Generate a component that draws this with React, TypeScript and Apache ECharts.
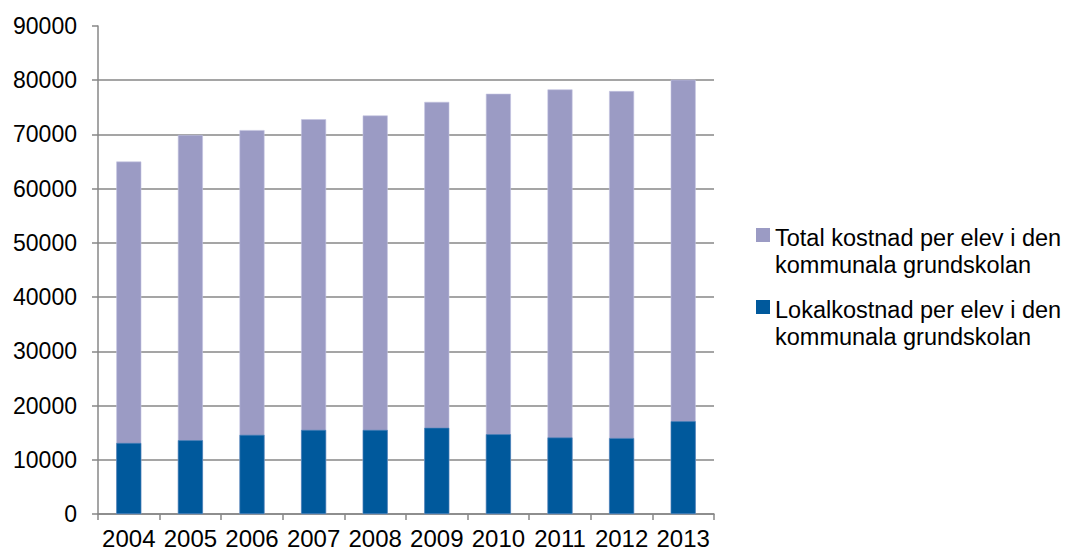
import React, { useEffect, useRef } from "react";
import * as echarts from "echarts";

const years = ["2004", "2005", "2006", "2007", "2008", "2009", "2010", "2011", "2012", "2013"];
const totalCost = [65000, 69900, 70800, 72800, 73500, 76000, 77500, 78300, 78000, 80100];
const localCost = [13100, 13600, 14600, 15500, 15500, 15900, 14700, 14100, 14000, 17100];
const seriesNames = [
  "Total kostnad per elev i den\nkommunala grundskolan",
  "Lokalkostnad per elev i den\nkommunala grundskolan",
];

const FONT = "'Liberation Sans', Arial, sans-serif";
const AXIS_COLOR = "#878787";

export default function App() {
  const ref = useRef<HTMLDivElement>(null);
  useEffect(() => {
    if (!ref.current) return;
    const chart = echarts.init(ref.current, null, { renderer: "svg" });
    const icon = "path://M0,0L0,0M0,4h14v14h-14zM0,54L0,54";
    chart.setOption({
      animation: false,
      backgroundColor: "#ffffff",
      textStyle: { fontFamily: FONT },
      grid: { left: 98, right: 358, top: 26, bottom: 39 },
      legend: {
        orient: "vertical",
        left: 756,
        top: 224,
        padding: 0,
        itemWidth: 14,
        itemHeight: 54,
        itemGap: 18,
        selectedMode: false,
        icon,
        itemStyle: { borderWidth: 0 },
        data: [
          { name: seriesNames[0], icon },
          { name: seriesNames[1], icon },
        ],
        textStyle: { fontFamily: FONT, fontSize: 23.5, color: "#000", lineHeight: 27 },
      },
      xAxis: {
        type: "category",
        data: years,
        axisLine: { lineStyle: { color: AXIS_COLOR, width: 1.5 } },
        axisTick: { show: true, length: 6, lineStyle: { color: AXIS_COLOR, width: 1.5 } },
        axisLabel: { color: "#000", fontSize: 24, fontFamily: FONT, margin: 12, interval: 0 },
      },
      yAxis: {
        type: "value",
        min: 0,
        max: 90000,
        interval: 10000,
        axisLine: { show: true, lineStyle: { color: AXIS_COLOR, width: 1.5 } },
        axisTick: { show: true, length: 6, lineStyle: { color: AXIS_COLOR, width: 1.5 } },
        axisLabel: {
          color: "#000",
          fontSize: 23,
          fontFamily: FONT,
          margin: 21,
          formatter: (v: number) => String(v),
        },
        splitLine: { show: true, showMaxLine: false, lineStyle: { color: AXIS_COLOR, width: 1.5 } },
      },
      series: [
        {
          name: seriesNames[0],
          type: "bar",
          data: totalCost,
          barWidth: 25,
          barGap: "-100%",
          itemStyle: { color: "#9B9BC4", borderColor: "#C3C3E0", borderWidth: 0.6 },
        },
        {
          name: seriesNames[1],
          type: "bar",
          data: localCost,
          barWidth: 25,
          barGap: "-100%",
          itemStyle: { color: "#00599C", borderColor: "#4F86BC", borderWidth: 0.6 },
        },
      ],
    });
    return () => chart.dispose();
  }, []);
  return (
    <div
      ref={ref}
      style={{ position: "fixed", left: 0, top: 0, width: 1072, height: 553, background: "#fff" }}
    />
  );
}
